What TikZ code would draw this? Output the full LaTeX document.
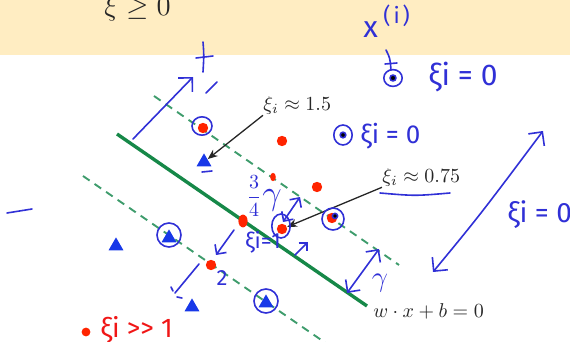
\documentclass[tikz,border=0pt]{standalone}
\usepackage{fontspec}
\newfontfamily\hand{Fira Sans}
\usetikzlibrary{arrows.meta,shapes.geometric}
\definecolor{band}{RGB}{255,237,194}
\definecolor{sepgreen}{RGB}{22,136,72}
\definecolor{margreen}{RGB}{62,156,108}
\definecolor{ptred}{RGB}{255,36,0}
\definecolor{ptblue}{RGB}{24,56,232}
\definecolor{ink}{RGB}{48,48,214}
\definecolor{redink}{RGB}{240,22,22}
\begin{document}
\begin{tikzpicture}[x=0.5pt,y=-0.5pt,
  redpt/.style={circle,fill=ptred,inner sep=0pt,minimum size=5.2pt},
  bluetri/.style={regular polygon,regular polygon sides=3,fill=ptblue,inner sep=0pt,minimum size=8.6pt},
  sepline/.style={draw=sepgreen,line width=1.7pt},
  marline/.style={draw=margreen,line width=0.95pt,dash pattern=on 4pt off 3pt},
  blkarrow/.style={draw=black!85,line width=0.65pt,-{Stealth[length=5pt,width=4pt]}},
  lbl/.style={inner sep=0pt,text=black!85},
  ink/.style={draw=ink,line width=0.8pt,line cap=round,line join=round},
  inkhead/.style={ink,-{Straight Barb[length=#1,width=2*#1]}},
  inkboth/.style={ink,{Straight Barb[length=#1,width=2*#1]}-{Straight Barb[length=#1,width=2*#1]}},
  handtxt/.style={inner sep=0pt,text=ink,font=\hand\fontsize{#1}{#1}\selectfont},
  redtxt/.style={inner sep=0pt,text=redink,font=\hand\fontsize{#1}{#1}\selectfont}
]
\useasboundingbox (0,0) rectangle (570,342);
\clip (0,0) rectangle (570,342);
\fill[band] (0,0) rectangle (570,55);
\node[lbl,anchor=base west,font=\fontsize{14}{16}\selectfont] (head) at (104,16) {$\xi \geq 0$};

% separator and margins
\coordinate (s1) at (117,134); \coordinate (s2) at (367,306);
\coordinate (u1) at (154,96);  \coordinate (u2) at (399,265);
\coordinate (l1) at (83,176);  \coordinate (l2) at (330,346);
\draw[marline] (u1) -- (u2);
\draw[marline] (l1) -- (l2);
\draw[sepline] (s1) -- (s2);

% red points
\node[redpt] (r1) at (203,128) {};
\node[redpt] (r2) at (282,141) {};
\node[redpt] (r3) at (317,187) {};
\node[redpt] (r4) at (282,229) {};
\node[redpt] (r5) at (332,218) {};
\node[redpt] (r6) at (211,265) {};
\node[redpt,minimum size=4.4pt] (r7) at (86,332) {};
\fill[ptred] (243,221) ellipse [x radius=2.3pt, y radius=3.2pt];
\fill[ptred] (273,177) ellipse [x radius=1.4pt, y radius=2.1pt];

% blue triangles
\node[bluetri] (t1) at (204,162) {};
\node[bluetri] (t2) at (116,246) {};
\node[bluetri] (t3) at (169,238) {};
\node[bluetri] (t4) at (192,307) {};
\node[bluetri] (t5) at (266,303) {};

% printed labels
\node[lbl,anchor=base west] (xi15) at (263,111) {$\xi_i \approx 1.5$};
\node[lbl,anchor=base west] (xi075) at (382,183) {$\xi_i \approx 0.75$};
\node[lbl,anchor=base west] (hyp) at (373,318) {$w\cdot x+b=0$};
\draw[blkarrow] (xi15.south west) -- (t1);
\draw[blkarrow] (xi075.south west) -- (r4);

% ---- handwritten annotations ----
% arrow up-left and plus
\coordinate (a1s) at (133,139); \coordinate (a1e) at (193,77);
\draw[inkhead=5pt] (a1s) -- (a1e);
\draw[ink] (203,42) .. controls (204,55) .. (203,72);
\draw[ink] (196,58) -- (213,56);
\draw[ink] (206,93) -- (217,82);
% circles
\draw[ink] (202,126) ellipse [x radius=5pt, y radius=4.6pt];
\draw[ink] (202,172) -- (212,171);
\draw[ink] (169,235) circle [radius=6pt];
\draw[ink] (266,301) circle [radius=6pt];
\draw[ink] (333,219) circle [radius=5.5pt];
\fill[ink] (335,216) circle [radius=1.3pt];
\draw[ink] (281,226) ellipse [x radius=4.6pt, y radius=6pt];

% x^(i) and circled dots
\node[handtxt=15,anchor=base west] (xx) at (363,38) {x};
\node[handtxt=11,anchor=base west] (xsup) at (383,24) {(\kern1.5pt i\kern1.5pt)};
\draw[ink] (386,50) .. controls (390,58) .. (391,70);
\draw[ink] (385,64) -- (397,63);
\draw[ink] (393,78) ellipse [x radius=4.6pt, y radius=4.2pt];
\fill[ink] (393,78) circle [radius=1.5pt];
\node[handtxt=15,anchor=west] (z1) at (428,77) {ξi = 0};
\draw[ink] (343,135) ellipse [x radius=4.6pt, y radius=5pt];
\fill[ink] (343,135) circle [radius=1.4pt];
\node[handtxt=13,anchor=west] (z2) at (360,136) {ξi = 0};

% right double arrow
\coordinate (b1) at (433,272); \coordinate (b2) at (543,131);
\draw[inkboth=5pt] (b1) .. controls (480,215) .. (b2);
\node[handtxt=14,anchor=west] (z3) at (507,215) {ξi = 0};

% underline, left stroke
\draw[ink] (380,193) .. controls (415,196) .. (450,193);
\draw[ink] (7,213) -- (32,209);

% 3/4 gamma and arrows
\node[inner sep=0pt,text=ink,font=\fontsize{10}{12}\selectfont] (frac) at (254,196) {$\displaystyle\frac{3}{4}$};
\node[inner sep=0pt,text=ink,font=\fontsize{16}{18}\selectfont] (gam34) at (272,200) {$\gamma$};
\coordinate (c1) at (283,222); \coordinate (c2) at (300,197);
\draw[inkboth=3.5pt] (c1) -- (c2);
\node[handtxt=11] (z4) at (263,242) {ξi=1};
\coordinate (d1) at (295,255); \coordinate (d2) at (308,242);
\draw[inkhead=3pt] (d1) -- (d2);
\coordinate (g1) at (347,293); \coordinate (g2) at (379,249);
\draw[inkboth=4.5pt] (g1) -- (g2);
\node[inner sep=0pt,text=ink,font=\fontsize{15}{17}\selectfont] (gam) at (380,283) {$\gamma$};

% arrows from points on/near the lower margin
\coordinate (e1) at (234,230); \coordinate (e2) at (216,255);
\draw[inkhead=3.5pt] (e1) -- (e2);
\draw[ink] (199,264) -- (175,293);
\draw[ink] (171,287) -- (173,291);
\draw[ink] (177,297) -- (182,298);
\node[handtxt=11] (two) at (222,278) {2};

% legend in red
\node[redtxt=13.5,anchor=base west] (big) at (100,338) {ξi >> 1};
\end{tikzpicture}
\end{document}
